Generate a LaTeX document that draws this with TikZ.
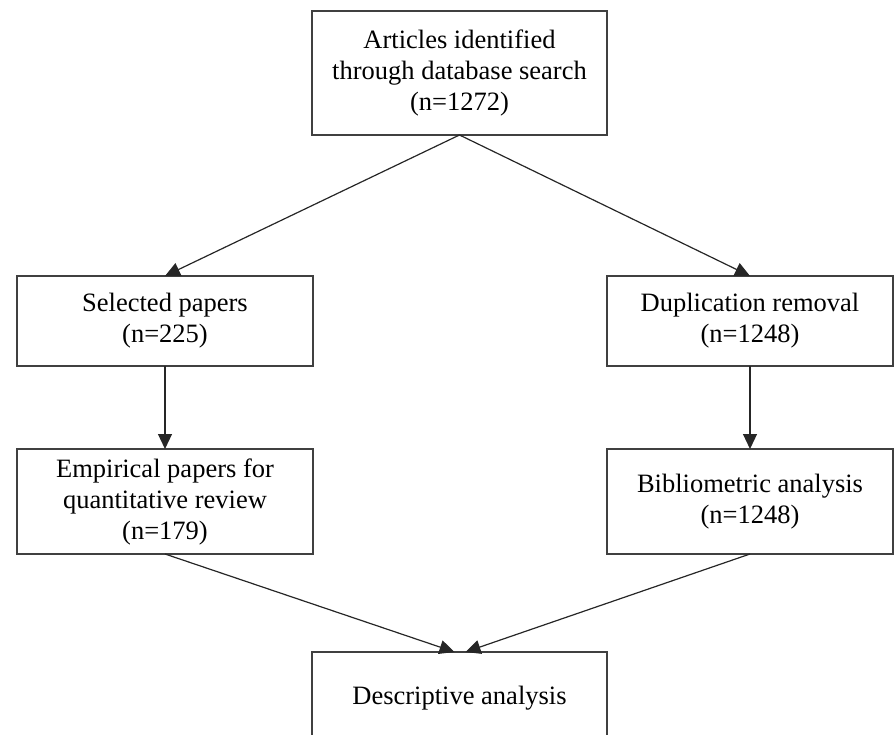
\documentclass[tikz,border=0pt]{standalone}
\usepackage{fontspec}
\setmainfont{Liberation Serif}
\usepackage{tikz}
\usetikzlibrary{arrows.meta}

\begin{document}
\begin{tikzpicture}[
		x=1pt, y=-1pt,
		stage/.style={
			rectangle,
			draw=black!75,
			line width=1.4pt,
			inner sep=0pt,
			outer sep=0pt,
			align=center,
			font=\fontsize{26.5}{31}\selectfont
		},
		arrow/.style={
			line width=1.2pt,
			black!85,
			-{Triangle[length=15pt, width=14pt]},
		}
	]
	\useasboundingbox (0,0) rectangle (894,735);
	
	\node[stage, minimum width=295pt, minimum height=124pt] (ident) at (459.5,73)
		{Articles identified\\through database search\\(n=1272)};
	\node[stage, minimum width=296pt, minimum height=90pt] (select) at (165,321)
		{Selected papers\\(n=225)};
	\node[stage, minimum width=286pt, minimum height=90pt] (dedup) at (750,321)
		{Duplication removal\\(n=1248)};
	\node[stage, minimum width=296pt, minimum height=105pt] (empir) at (165,501.5)
		{Empirical papers for\\quantitative review\\(n=179)};
	\node[stage, minimum width=286pt, minimum height=105pt] (biblio) at (750,501.5)
		{Bibliometric analysis\\(n=1248)};
	\node[stage, minimum width=295pt, minimum height=92pt] (descr) at (459.5,698)
		{Descriptive analysis};
	
	\draw[arrow] (ident.south) -- (select.north);
	\draw[arrow] (ident.south) -- (dedup.north);
	\draw[arrow] (select.south) -- (empir.north);
	\draw[arrow] (dedup.south) -- (biblio.north);
	\draw[arrow] (empir.south) -- ([xshift=-5pt]descr.north);
	\draw[arrow] (biblio.south) -- ([xshift=6pt]descr.north);
	
\end{tikzpicture}
\end{document}
